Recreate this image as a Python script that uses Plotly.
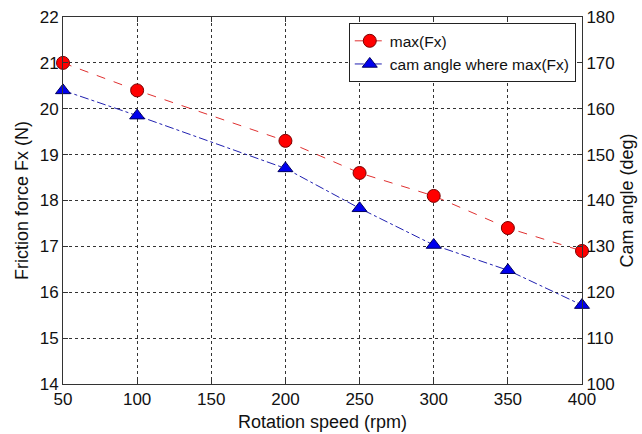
import plotly.graph_objects as go

speed = [50, 100, 200, 250, 300, 350, 400]
max_fx = [21.0, 20.4, 19.3, 18.6, 18.1, 17.4, 16.9]
cam_angle = [164.0, 158.5, 147.0, 138.3, 130.3, 124.8, 117.2]

FONT = "Liberation Sans, Arial, sans-serif"

fig = go.Figure()
fig.add_trace(go.Scatter(
    x=speed, y=max_fx, name="max(Fx)", mode="lines+markers",
    cliponaxis=False,
    line=dict(color="#e03030", width=1, dash="dash"),
    marker=dict(symbol="circle", size=13, color="#ff0000",
                line=dict(color="#7a0000", width=1)),
))
fig.add_trace(go.Scatter(
    x=speed, y=cam_angle, name="cam angle where max(Fx)", mode="lines+markers",
    yaxis="y2", cliponaxis=False,
    line=dict(color="#2020b0", width=1, dash="dashdot"),
    marker=dict(symbol="triangle-up", size=13, color="#0000ee",
                line=dict(color="#000060", width=1)),
))

axis_common = dict(
    ticks="inside", ticklen=5, tickcolor="#333", showline=True,
    linecolor="#333", linewidth=1, automargin=False,
    tickfont=dict(family=FONT, size=17, color="#111"),
    zeroline=False,
)

fig.update_layout(
    width=642, height=434,
    margin=dict(l=63, r=60, t=17, b=50),
    paper_bgcolor="white", plot_bgcolor="white",
    font=dict(family=FONT, color="#111"),
    showlegend=True,
    legend=dict(
        x=0.988, y=0.983, xanchor="right", yanchor="top",
        bgcolor="white", bordercolor="#222", borderwidth=1,
        font=dict(family=FONT, size=15.5, color="#111"),
        itemwidth=30, tracegroupgap=0,
    ),
    xaxis=dict(
        range=[50, 400], tickvals=[50, 100, 150, 200, 250, 300, 350, 400],
        mirror="ticks", showgrid=True, gridcolor="#333", griddash="dot",
        gridwidth=1,
        title=dict(text="Rotation speed (rpm)", font=dict(family=FONT, size=18),
                   standoff=6),
        **axis_common,
    ),
    yaxis=dict(
        range=[14, 22], tickvals=list(range(14, 23)),
        showgrid=True, gridcolor="#333", griddash="dot", gridwidth=1,
        title=dict(text="Friction force Fx (N)", font=dict(family=FONT, size=18),
                   standoff=6),
        **axis_common,
    ),
    yaxis2=dict(
        range=[100, 180], tickvals=list(range(100, 181, 10)),
        overlaying="y", side="right", showgrid=False,
        title=dict(text="Cam angle (deg)", font=dict(family=FONT, size=18),
                   standoff=6),
        **axis_common,
    ),
)

fig.write_html("out.html")
